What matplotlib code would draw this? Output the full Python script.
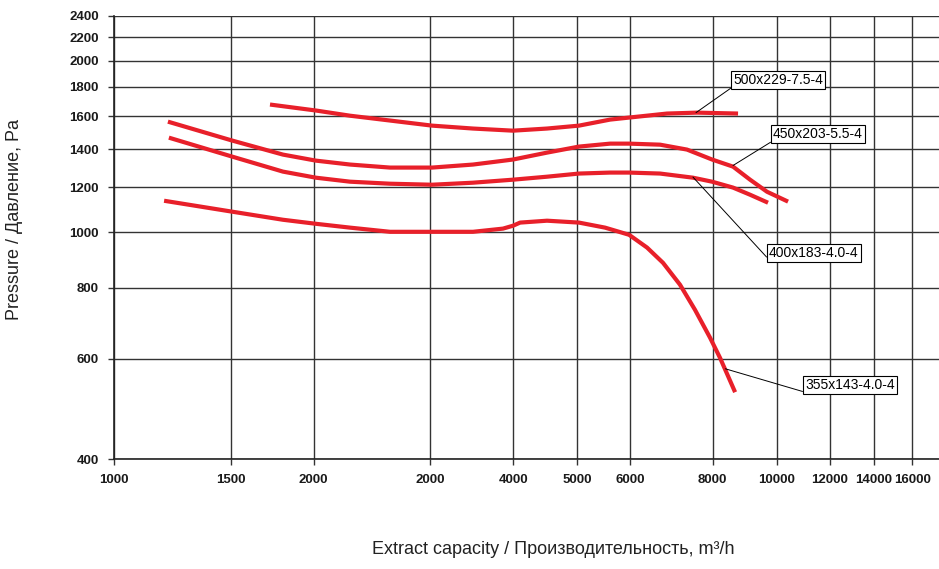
import matplotlib
matplotlib.use('Agg')
import matplotlib.pyplot as plt
from matplotlib.ticker import FixedLocator, FixedFormatter, NullLocator

# Fan curves (extract capacity m3/h vs pressure Pa)
x_500 = [1719, 2016, 2270, 2608, 3018, 3479, 3998, 4499, 5027, 5600, 5982, 6825, 7574, 8734]
y_500 = [1676, 1636, 1602, 1571, 1539, 1521, 1508, 1521, 1539, 1577, 1590, 1616, 1622, 1616]

x_450 = [1206, 1507, 1798, 2016, 2270, 2608, 3018, 3479, 3998, 4499, 5027, 5600, 5982,
         6662, 7315, 7980, 8583, 9106, 9659, 10390]
y_450 = [1564, 1449, 1369, 1336, 1315, 1299, 1299, 1315, 1342, 1380, 1414, 1431, 1431,
         1425, 1397, 1342, 1304, 1237, 1178, 1132]

x_400 = [1210, 1507, 1798, 2016, 2270, 2608, 3018, 3479, 3998, 4499, 5027, 5600, 5982,
         6662, 7468, 7980, 8583, 9106, 9692]
y_400 = [1466, 1358, 1278, 1247, 1227, 1217, 1212, 1222, 1237, 1252, 1268, 1273, 1273,
         1268, 1247, 1227, 1198, 1164, 1127]

x_355 = [1190, 1507, 1798, 2016, 2270, 2608, 3018, 3479, 3861, 3998, 4097, 4499, 5027,
         5504, 5982, 6368, 6730, 7140, 7521, 7925, 8204, 8645]
y_355 = [1136, 1087, 1052, 1035, 1019, 1002, 1002, 1002, 1015, 1027, 1040, 1048, 1040,
         1019, 990, 940, 884, 809, 731, 653, 602, 524]

curves = [
    ('500x229-7.5-4', x_500, y_500),
    ('450x203-5.5-4', x_450, y_450),
    ('400x183-4.0-4', x_400, y_400),
    ('355x143-4.0-4', x_355, y_355),
]

# label boxes: (point on curve, lower-left of label)
label_pos = {
    '500x229-7.5-4': ((7547, 1622), (8583, 1802)),
    '450x203-5.5-4': ((8583, 1310), (9862, 1448)),
    '400x183-4.0-4': ((7468, 1250), (9727, 895)),
    '355x143-4.0-4': ((8355, 576), (11020, 524)),
}

x_ticks = [1000, 1500, 2000, 3000, 4000, 5000, 6000, 8000, 10000, 12000, 14000, 16000]
x_tick_labels = ['1000', '1500', '2000', '2000', '4000', '5000', '6000', '8000',
                 '10000', '12000', '14000', '16000']
y_ticks = [400, 600, 800, 1000, 1200, 1400, 1600, 1800, 2000, 2200, 2400]

sans = ['Liberation Sans', 'DejaVu Sans']

fig = plt.figure(figsize=(9.39, 5.69), dpi=100)
ax = fig.add_axes([114 / 939, 1 - 459 / 569, 1 - 114 / 939, (459 - 15.7) / 569])

ax.set_xscale('log')
ax.set_yscale('log')
ax.set_xlim(1000, 17550)
ax.set_ylim(400, 2400)

for name, xs, ys in curves:
    ax.plot(xs, ys, color='#e8202a', lw=3, solid_capstyle='butt',
            solid_joinstyle='round', zorder=3)

ax.xaxis.set_major_locator(FixedLocator(x_ticks))
ax.xaxis.set_major_formatter(FixedFormatter(x_tick_labels))
ax.xaxis.set_minor_locator(NullLocator())
ax.yaxis.set_major_locator(FixedLocator(y_ticks))
ax.yaxis.set_major_formatter(FixedFormatter([str(v) for v in y_ticks]))
ax.yaxis.set_minor_locator(NullLocator())

ax.grid(True, color='#333333', lw=1.0)
ax.set_axisbelow(True)
ax.tick_params(length=4, width=1, color='#333333', labelsize=9.5)
ax.tick_params(axis='x', pad=7)
ax.tick_params(axis='y', pad=7)
for lbl in ax.get_xticklabels() + ax.get_yticklabels():
    lbl.set_family(sans)
    lbl.set_fontweight('bold')
    lbl.set_color('#1a1a1a')

for s in ['top', 'right']:
    ax.spines[s].set_visible(False)
for s in ['left', 'bottom']:
    ax.spines[s].set_color('#222222')
    ax.spines[s].set_linewidth(1.2)

for name, xs, ys in curves:
    pt, txt = label_pos[name]
    ax.annotate(name, xy=pt, xytext=txt, textcoords='data', ha='left', va='bottom',
                fontsize=10, family=sans, zorder=5,
                bbox=dict(boxstyle='square,pad=0.15', fc='white', ec='black', lw=0.8),
                arrowprops=dict(arrowstyle='-', color='black', lw=0.7, relpos=(0, 0),
                                shrinkA=0, shrinkB=0))

fig.text(553 / 939, 1 - 550 / 569, 'Extract capacity / Производительность, m³/h',
         ha='center', va='center', fontsize=13, family=sans, color='#222222')
fig.text(15 / 939, 1 - 220 / 569, 'Pressure / Давление, Pa', rotation=90,
         ha='center', va='center', fontsize=13, family=sans, color='#222222')

fig.savefig('out.png', dpi=100)
